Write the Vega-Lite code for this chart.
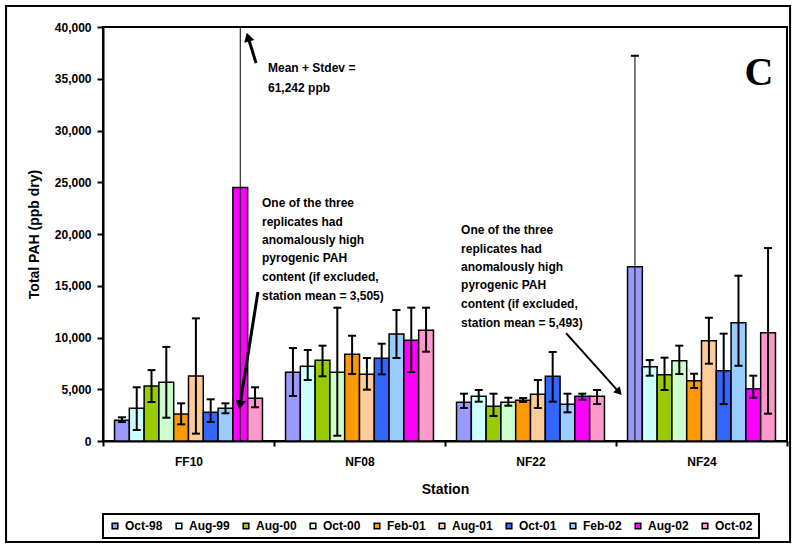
{
  "$schema": "https://vega.github.io/schema/vega-lite/v6.json",
  "width": 684,
  "height": 414,
  "autosize": {"type": "none"},
  "padding": {"left": 103, "top": 27, "right": 5, "bottom": 107},
  "background": "white",
  "config": {
    "font": "Liberation Sans",
    "numberFormat": ",.0f",
    "view": {"stroke": "black", "strokeWidth": 2},
    "axis": {
      "labelFont": "Liberation Sans", "labelFontWeight": "bold", "labelFontSize": 12, "labelColor": "black",
      "titleFont": "Liberation Sans", "titleFontWeight": "bold", "titleFontSize": 14, "titleColor": "black",
      "domainColor": "black", "domainWidth": 2, "tickColor": "black", "tickWidth": 2, "grid": false
    },
    "legend": {
      "orient": "bottom", "direction": "horizontal", "columns": 10,
      "labelFont": "Liberation Sans", "labelFontWeight": "bold", "labelFontSize": 12, "labelColor": "black",
      "symbolType": "square", "symbolSize": 32, "symbolStrokeColor": "black", "symbolStrokeWidth": 1.5, "symbolOpacity": 1,
      "strokeColor": "black", "strokeWidth": 2, "padding": 6, "columnPadding": 10, "labelOffset": 4, "offset": 18
    }
  },
  "datasets": {
    "pah": [
      {"station": "FF10", "date": "Oct-98", "mean": 2000, "lo": 1830, "hi": 2290},
      {"station": "FF10", "date": "Aug-99", "mean": 3160, "lo": 1060, "hi": 5190},
      {"station": "FF10", "date": "Aug-00", "mean": 5310, "lo": 3770, "hi": 6850},
      {"station": "FF10", "date": "Oct-00", "mean": 5670, "lo": 2250, "hi": 9090},
      {"station": "FF10", "date": "Feb-01", "mean": 2610, "lo": 1610, "hi": 3640},
      {"station": "FF10", "date": "Aug-01", "mean": 6280, "lo": 710, "hi": 11850},
      {"station": "FF10", "date": "Oct-01", "mean": 2770, "lo": 1835, "hi": 4030},
      {"station": "FF10", "date": "Feb-02", "mean": 3160, "lo": 2680, "hi": 3640},
      {"station": "FF10", "date": "Aug-02", "mean": 24500, "lo": 0, "hi": 61242},
      {"station": "FF10", "date": "Oct-02", "mean": 4120, "lo": 3260, "hi": 5190},
      {"station": "NF08", "date": "Oct-98", "mean": 6640, "lo": 4350, "hi": 8980},
      {"station": "NF08", "date": "Aug-99", "mean": 7220, "lo": 5890, "hi": 8790},
      {"station": "NF08", "date": "Aug-00", "mean": 7800, "lo": 6250, "hi": 9210},
      {"station": "NF08", "date": "Oct-00", "mean": 6640, "lo": 510, "hi": 12880},
      {"station": "NF08", "date": "Feb-01", "mean": 8380, "lo": 6470, "hi": 10170},
      {"station": "NF08", "date": "Aug-01", "mean": 6440, "lo": 4960, "hi": 8020},
      {"station": "NF08", "date": "Oct-01", "mean": 7990, "lo": 6440, "hi": 9400},
      {"station": "NF08", "date": "Feb-02", "mean": 10340, "lo": 8020, "hi": 12650},
      {"station": "NF08", "date": "Aug-02", "mean": 9730, "lo": 6670, "hi": 12880},
      {"station": "NF08", "date": "Oct-02", "mean": 10690, "lo": 8630, "hi": 12880},
      {"station": "NF22", "date": "Oct-98", "mean": 3740, "lo": 3190, "hi": 4570},
      {"station": "NF22", "date": "Aug-99", "mean": 4320, "lo": 3800, "hi": 4930},
      {"station": "NF22", "date": "Aug-00", "mean": 3350, "lo": 2415, "hi": 4570},
      {"station": "NF22", "date": "Oct-00", "mean": 3740, "lo": 3410, "hi": 4180},
      {"station": "NF22", "date": "Feb-01", "mean": 3930, "lo": 3770, "hi": 4150},
      {"station": "NF22", "date": "Aug-01", "mean": 4510, "lo": 3190, "hi": 5890},
      {"station": "NF22", "date": "Oct-01", "mean": 6250, "lo": 3800, "hi": 8600},
      {"station": "NF22", "date": "Feb-02", "mean": 3545, "lo": 2770, "hi": 4570},
      {"station": "NF22", "date": "Aug-02", "mean": 4320, "lo": 3990, "hi": 4570},
      {"station": "NF22", "date": "Oct-02", "mean": 4320, "lo": 3570, "hi": 4930},
      {"station": "NF24", "date": "Oct-98", "mean": 16840, "lo": 0, "hi": 37220},
      {"station": "NF24", "date": "Aug-99", "mean": 7180, "lo": 6310, "hi": 7820},
      {"station": "NF24", "date": "Aug-00", "mean": 6400, "lo": 4930, "hi": 8050},
      {"station": "NF24", "date": "Oct-00", "mean": 7760, "lo": 6470, "hi": 9210},
      {"station": "NF24", "date": "Feb-01", "mean": 5830, "lo": 5120, "hi": 6500},
      {"station": "NF24", "date": "Aug-01", "mean": 9690, "lo": 7470, "hi": 11910},
      {"station": "NF24", "date": "Oct-01", "mean": 6790, "lo": 3570, "hi": 10370},
      {"station": "NF24", "date": "Feb-02", "mean": 11430, "lo": 7270, "hi": 15970},
      {"station": "NF24", "date": "Aug-02", "mean": 5050, "lo": 4180, "hi": 6310},
      {"station": "NF24", "date": "Oct-02", "mean": 10460, "lo": 2640, "hi": 18640}
    ],
    "notes": [
      {"x": 0.965, "y": 36030, "text": "Mean + Stdev ="},
      {"x": 0.965, "y": 34100, "text": "61,242 ppb"},
      {"x": 0.930, "y": 22990, "text": "One of the three"},
      {"x": 0.930, "y": 21155, "text": "replicates had"},
      {"x": 0.930, "y": 19420, "text": "anomalously high"},
      {"x": 0.930, "y": 17680, "text": "pyrogenic PAH"},
      {"x": 0.930, "y": 15840, "text": "content (if excluded,"},
      {"x": 0.930, "y": 14010, "text": "station mean = 3,505)"},
      {"x": 2.094, "y": 20380, "text": "One of the three"},
      {"x": 2.094, "y": 18550, "text": "replicates had"},
      {"x": 2.094, "y": 16810, "text": "anomalously high"},
      {"x": 2.094, "y": 15070, "text": "pyrogenic PAH"},
      {"x": 2.094, "y": 13230, "text": "content (if excluded,"},
      {"x": 2.094, "y": 11400, "text": "station mean = 5,493)"}
    ],
    "panel": [
      {"x": 3.836, "y": 34390, "text": "C"}
    ],
    "arrows": [
      {"id": "a1", "x": 0.895, "y": 36515, "x2": 0.848, "y2": 39030},
      {"id": "a2", "x": 0.906, "y": 14390, "x2": 0.801, "y2": 3480},
      {"id": "a3", "x": 2.708, "y": 10430, "x2": 3.018, "y2": 4730}
    ],
    "frame": [
      {"x": -0.567, "x2": 4.018, "y": -9757, "y2": 42020}
    ]
  },
  "layer": [
    {
      "data": {"name": "pah"},
      "encoding": {
        "x": {
          "field": "station", "type": "nominal",
          "scale": {"paddingInner": 0, "paddingOuter": 0},
          "axis": {"title": "Station", "labelAngle": 0, "tickBand": "extent", "tickSize": 5, "labelPadding": 10, "titlePadding": 15}
        },
        "xOffset": {
          "field": "date", "type": "nominal",
          "sort": ["Oct-98", "Aug-99", "Aug-00", "Oct-00", "Feb-01", "Aug-01", "Oct-01", "Feb-02", "Aug-02", "Oct-02"],
          "scale": {"paddingInner": 0, "paddingOuter": 0.78}
        }
      },
      "layer": [
        {
          "mark": {"type": "bar", "stroke": "black", "strokeWidth": 1.5},
          "encoding": {
            "y": {
              "field": "mean", "type": "quantitative", "title": "Total PAH (ppb dry)",
              "scale": {"domain": [0, 40000], "nice": false},
              "axis": {"values": [0, 5000, 10000, 15000, 20000, 25000, 30000, 35000, 40000], "format": ",.0f", "tickSize": 6, "labelPadding": 6, "titlePadding": 13}
            },
            "color": {
              "field": "date", "type": "nominal",
              "scale": {
                "domain": ["Oct-98", "Aug-99", "Aug-00", "Oct-00", "Feb-01", "Aug-01", "Oct-01", "Feb-02", "Aug-02", "Oct-02"],
                "range": ["#9999FF", "#CCFFFF", "#99CC00", "#CCFFCC", "#FF9900", "#FFCC99", "#3366FF", "#99CCFF", "#FF00FF", "#FF99CC"]
              },
              "legend": {"title": null}
            }
          }
        },
        {
          "mark": {"type": "rule", "clip": true, "color": "black"},
          "encoding": {
            "y": {"field": "lo", "type": "quantitative", "title": "Total PAH (ppb dry)"},
            "y2": {"field": "hi"},
            "strokeWidth": {"condition": {"test": "datum.hi > 30000", "value": 1}, "value": 2}
          }
        },
        {
          "transform": [{"filter": "datum.hi < 40000"}],
          "mark": {"type": "tick", "color": "black", "thickness": 2, "size": 8, "opacity": 1},
          "encoding": {"y": {"field": "hi", "type": "quantitative", "title": "Total PAH (ppb dry)"}}
        },
        {
          "transform": [{"filter": "datum.lo > 0"}],
          "mark": {"type": "tick", "color": "black", "thickness": 2, "size": 8, "opacity": 1},
          "encoding": {"y": {"field": "lo", "type": "quantitative", "title": "Total PAH (ppb dry)"}}
        }
      ]
    },
    {
      "layer": [
        {
          "data": {"name": "notes"},
          "mark": {"type": "text", "align": "left", "baseline": "middle", "font": "Liberation Sans", "fontWeight": "bold", "fontSize": 12, "color": "black"},
          "encoding": {
            "x": {"field": "x", "type": "quantitative", "scale": {"domain": [0, 4], "nice": false, "zero": false}, "axis": null},
            "y": {"field": "y", "type": "quantitative", "title": "Total PAH (ppb dry)"},
            "text": {"field": "text"}
          }
        },
        {
          "data": {"name": "panel"},
          "mark": {"type": "text", "align": "center", "baseline": "alphabetic", "font": "Liberation Serif", "fontWeight": "bold", "fontSize": 40, "color": "black"},
          "encoding": {
            "x": {"field": "x", "type": "quantitative", "axis": null},
            "y": {"field": "y", "type": "quantitative", "title": "Total PAH (ppb dry)"},
            "text": {"field": "text"}
          }
        },
        {
          "data": {"name": "arrows"},
          "mark": {"type": "rule", "color": "black", "clip": false},
          "encoding": {
            "x": {"field": "x", "type": "quantitative", "axis": null},
            "x2": {"field": "x2"},
            "y": {"field": "y", "type": "quantitative", "title": "Total PAH (ppb dry)"},
            "y2": {"field": "y2"},
            "strokeWidth": {"condition": {"test": "datum.id === 'a3'", "value": 2}, "value": 3}
          }
        },
        {
          "data": {"name": "arrows"},
          "transform": [{"filter": "datum.id === 'a1'"}],
          "mark": {"type": "point", "shape": "triangle-up", "filled": true, "color": "black", "opacity": 1, "size": 110, "angle": 344},
          "encoding": {
            "x": {"field": "x2", "type": "quantitative", "axis": null},
            "y": {"field": "y2", "type": "quantitative", "title": "Total PAH (ppb dry)"}
          }
        },
        {
          "data": {"name": "arrows"},
          "transform": [{"filter": "datum.id === 'a2'"}],
          "mark": {"type": "point", "shape": "triangle-up", "filled": true, "color": "black", "opacity": 1, "size": 110, "angle": 189},
          "encoding": {
            "x": {"field": "x2", "type": "quantitative", "axis": null},
            "y": {"field": "y2", "type": "quantitative", "title": "Total PAH (ppb dry)"}
          }
        },
        {
          "data": {"name": "arrows"},
          "transform": [{"filter": "datum.id === 'a3'"}],
          "mark": {"type": "point", "shape": "triangle-up", "filled": true, "color": "black", "opacity": 1, "size": 80, "angle": 138},
          "encoding": {
            "x": {"field": "x2", "type": "quantitative", "axis": null},
            "y": {"field": "y2", "type": "quantitative", "title": "Total PAH (ppb dry)"}
          }
        },
        {
          "data": {"name": "frame"},
          "mark": {"type": "rect", "fill": null, "stroke": "black", "strokeWidth": 2, "clip": false},
          "encoding": {
            "x": {"field": "x", "type": "quantitative", "axis": null},
            "x2": {"field": "x2"},
            "y": {"field": "y", "type": "quantitative", "title": "Total PAH (ppb dry)"},
            "y2": {"field": "y2"}
          }
        }
      ]
    }
  ],
  "resolve": {"scale": {"x": "independent"}}
}
